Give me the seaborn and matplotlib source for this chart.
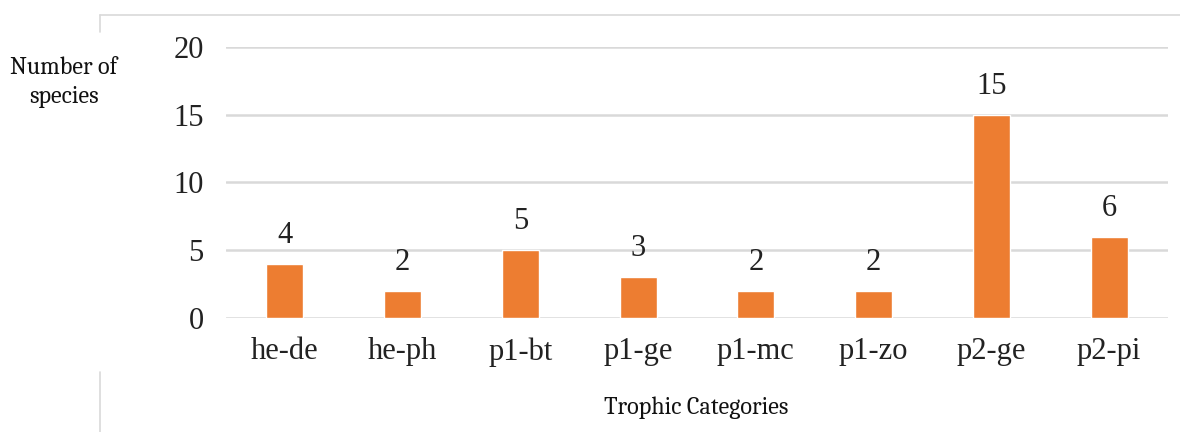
import numpy as np
import pandas as pd
import matplotlib.pyplot as plt
import seaborn as sns
from matplotlib.lines import Line2D

# Trophic category counts
categories = ['he-de', 'he-ph', 'p1-bt', 'p1-ge', 'p1-mc', 'p1-zo', 'p2-ge', 'p2-pi']
species_counts = [4, 2, 5, 3, 2, 2, 15, 6]
y_ticks = [0, 5, 10, 15, 20]

df = pd.DataFrame({'category': categories, 'count': species_counts})

sns.set_style('white')
plt.rcParams['font.family'] = ['Liberation Serif', 'DejaVu Serif']
title_font = ['Caladea', 'Liberation Serif', 'DejaVu Serif']

fig = plt.figure(figsize=(11.8, 4.32), dpi=100)
ax = fig.add_axes([0.1915, 0.2639, 0.7983, 0.6273])

sns.barplot(data=df, x='category', y='count', color='#ED7D31', width=0.315,
            saturation=1, ax=ax)

# value labels above bars
ax.bar_label(ax.containers[0], labels=[str(v) for v in species_counts],
             padding=10, fontsize=22, color='#222222')

ax.set_ylim(0, 20)
ax.set_yticks(y_ticks)
ax.yaxis.grid(True, color='#D9D9D9', linewidth=1.8)
ax.set_axisbelow(True)
for s in ax.spines.values():
    s.set_visible(False)
ax.tick_params(axis='both', length=0, labelsize=22, labelcolor='#222222')
ax.tick_params(axis='y', pad=16)
ax.tick_params(axis='x', pad=14)
ax.set_xlabel('')
ax.set_ylabel('')

# axis titles
fig.text(0.054, 0.81, 'Number of\nspecies', ha='center', va='center',
         fontsize=17.5, family=title_font, linespacing=1.35, color='#111111')
fig.text(0.59, 0.056, 'Trophic Categories', ha='center', va='center',
         fontsize=17.5, family=title_font, color='#111111')

# partial chart frame
fig.add_artist(Line2D([100 / 1180, 1.0], [1 - 15 / 432, 1 - 15 / 432],
                      color='#D9D9D9', linewidth=1.2))
fig.add_artist(Line2D([100 / 1180, 100 / 1180], [1 - 15 / 432, 1 - 32 / 432],
                      color='#D9D9D9', linewidth=1.2))
fig.add_artist(Line2D([100 / 1180, 100 / 1180], [1 - 372 / 432, 0.0],
                      color='#D9D9D9', linewidth=1.2))

fig.savefig('out.png', dpi=100)
